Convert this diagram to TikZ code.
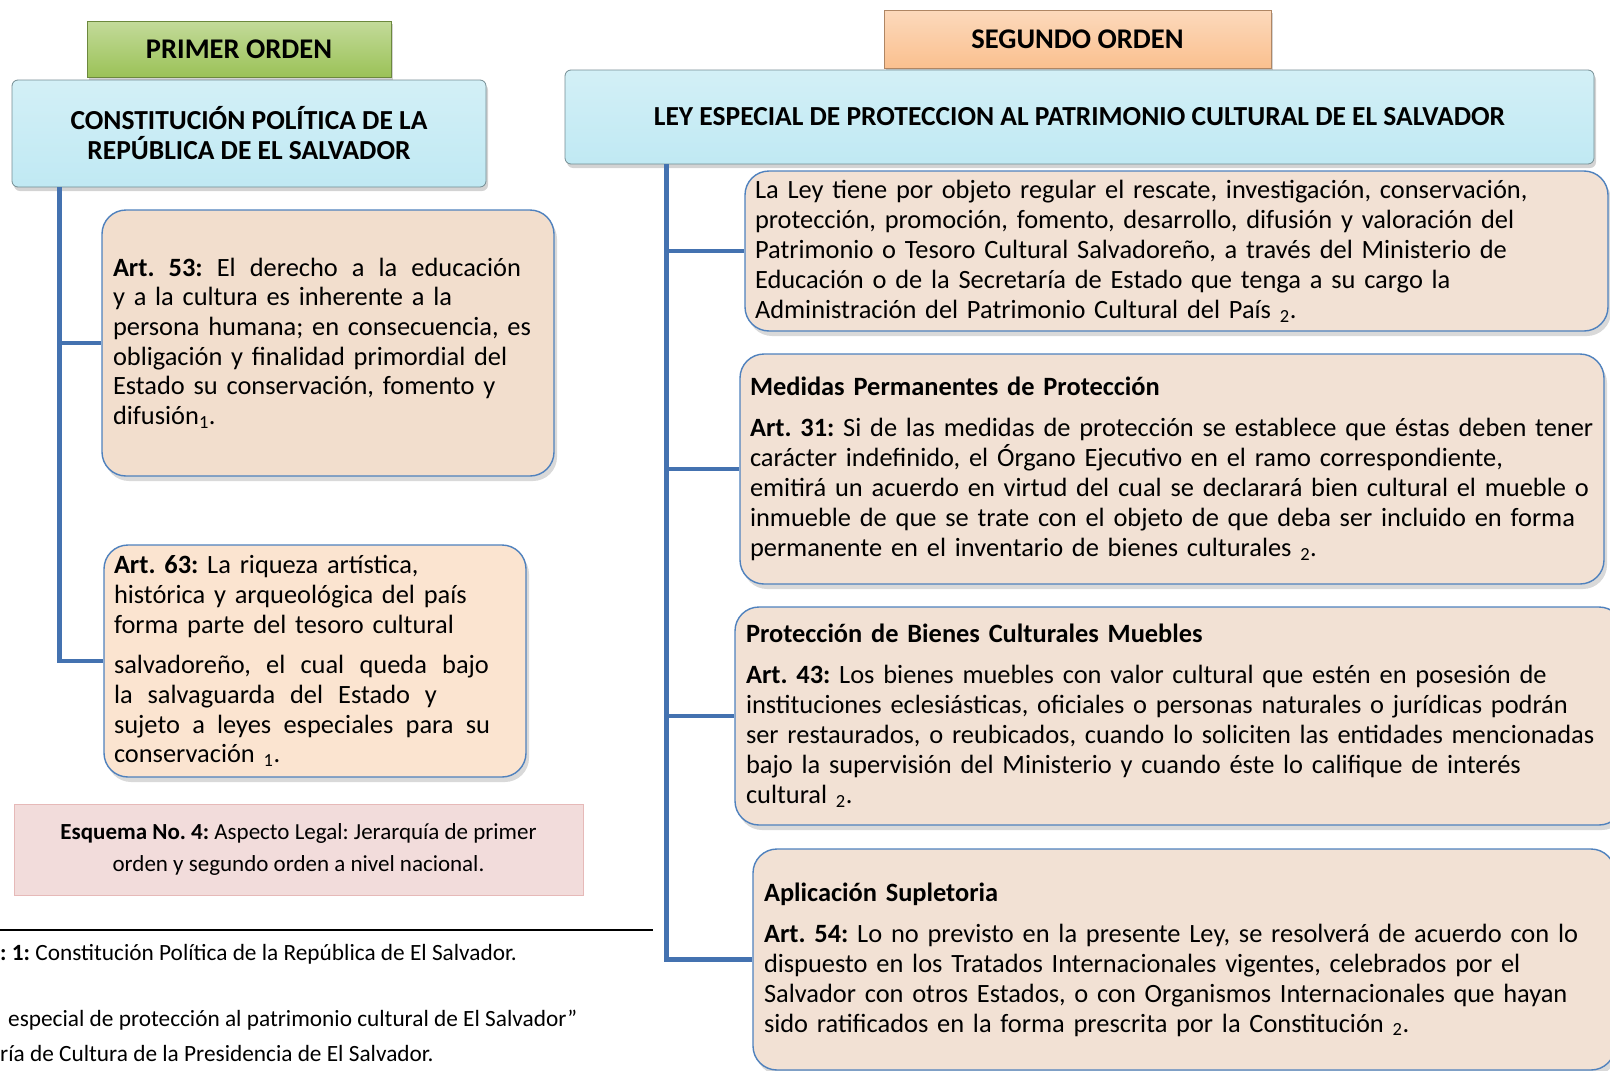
\documentclass[tikz,border=0pt]{standalone}
\usepackage{fontspec}
\setmainfont{Carlito}
\frenchspacing
\usepackage{tikz}
\usetikzlibrary{positioning,shadows,calc}

\definecolor{bordeazul}{RGB}{79,129,189}
\definecolor{troncoazul}{RGB}{68,114,176}
\definecolor{pielley}{RGB}{242,225,212}
\definecolor{pielart}{RGB}{242,222,205}
\definecolor{pielclara}{RGB}{251,228,208}
\definecolor{cielo}{RGB}{192,233,243}
\definecolor{verdeorden}{RGB}{155,194,87}
\definecolor{naranjaorden}{RGB}{250,192,143}
\definecolor{rosaesquema}{RGB}{242,220,219}
\definecolor{bordesquema}{RGB}{230,185,184}

% linea justificada a mano
\newcommand{\estirar}[2]{\makebox[#1][s]{\spaceskip=.23em plus 1fil\xspaceskip=.23em plus 1fil\relax #2}}

\tikzset{
  ordenbox/.style={rectangle, draw=#1!70!black, line width=0.8pt, top color=#1!60!white, bottom color=#1,
    inner sep=0pt, font=\fontsize{28.5}{32}\selectfont\bfseries,
    drop shadow={shadow xshift=2pt, shadow yshift=-3pt, opacity=.35}},
  leybox/.style={rectangle, rounded corners=6pt, draw=cielo!60!black, line width=0.8pt,
    top color=cielo!70!white, bottom color=cielo, inner sep=0pt, align=center,
    font=\fontsize{27.5}{30}\selectfont\bfseries,
    drop shadow={shadow xshift=2pt, shadow yshift=-4pt, opacity=.35}},
  artbox/.style={rectangle, rounded corners=24pt, draw=bordeazul, line width=1.4pt, fill=#1,
    inner ysep=3pt, align=left, font=\fontsize{26.4}{29.7}\selectfont,
    drop shadow={shadow xshift=3pt, shadow yshift=-5pt, opacity=.3}},
  leytext/.style={font=\fontsize{26.4}{30}\selectfont},
  tronco/.style={draw=troncoazul, line width=4.5pt}
}

\begin{document}
\begin{tikzpicture}[x=1pt,y=-1pt]
\clip (0,0) rectangle (1610,1071);

% primer orden
\node[ordenbox=verdeorden, minimum width=304pt, minimum height=56pt] (primer) at (239,49) {PRIMER ORDEN};
\node[leybox, minimum width=474pt, minimum height=107pt] (constitucion) at (249,133.5)
    {CONSTITUCIÓN POLÍTICA DE LA\\REPÚBLICA DE EL SALVADOR};

\node[artbox=pielart, minimum width=452pt, minimum height=266pt, inner xsep=11pt, text width=430pt] (art53) at (328,343)
    {\estirar{408pt}{\textbf{Art. 53:} El derecho a la educación}\\
     y a la cultura es inherente a la\\
     persona humana; en consecuencia, es\\
     obligación y finalidad primordial del\\
     Estado su conservación, fomento y\\
     difusión\textsubscript{1}.};
\node[artbox=pielclara, minimum width=422pt, minimum height=232pt, inner xsep=10pt, text width=402pt] (art63) at (315,661)
    {\textbf{Art. 63:} La riqueza artística,\\
     histórica y arqueológica del país\\
     forma parte del tesoro cultural\\[11pt]
     \estirar{375pt}{salvadoreño, el cual queda bajo}\\
     \estirar{323pt}{la salvaguarda del Estado y}\\
     \estirar{376pt}{sujeto a leyes especiales para su}\\
     conservación \textsubscript{1}.};

\coordinate (ltronco) at ($(constitucion.south west)+(48,0)$);
\draw[tronco] (ltronco) |- (art53.west);
\draw[tronco] (ltronco) |- (art63.west);

% segundo orden
\node[ordenbox=naranjaorden, minimum width=387pt, minimum height=58pt] (segundo) at (1077.5,39) {SEGUNDO ORDEN};
\node[leybox, minimum width=1029pt, minimum height=94pt] (ley) at (1079.5,117)
    {LEY ESPECIAL DE PROTECCION AL PATRIMONIO CULTURAL DE EL SALVADOR};

\node[artbox=pielley, leytext, minimum width=863pt, minimum height=160pt, inner xsep=10pt, text width=843pt] (objeto) at (1176.5,251)
    {La Ley tiene por objeto regular el rescate, investigación, conservación,\\
     protección, promoción, fomento, desarrollo, difusión y valoración del\\
     Patrimonio o Tesoro Cultural Salvadoreño, a través del Ministerio de\\
     Educación o de la Secretaría de Estado que tenga a su cargo la\\
     Administración del Patrimonio Cultural del País \textsubscript{2}.};
\node[artbox=pielley, leytext, minimum width=864pt, minimum height=230pt, inner xsep=10pt, text width=844pt] (medidas) at (1172,469)
    {\textbf{Medidas Permanentes de Protección}\\[11pt]
     \textbf{Art. 31:} Si de las medidas de protección se establece que éstas deben tener\\
     carácter indefinido, el Órgano Ejecutivo en el ramo correspondiente,\\
     emitirá un acuerdo en virtud del cual se declarará bien cultural el mueble o\\
     inmueble de que se trate con el objeto de que deba ser incluido en forma\\
     permanente en el inventario de bienes culturales \textsubscript{2}.};
\node[artbox=pielley, leytext, minimum width=888pt, minimum height=218pt, inner xsep=11pt, text width=866pt] (muebles) at (1179,716)
    {\textbf{Protección de Bienes Culturales Muebles}\\[11pt]
     \textbf{Art. 43:} Los bienes muebles con valor cultural que estén en posesión de\\
     instituciones eclesiásticas, oficiales o personas naturales o jurídicas podrán\\
     ser restaurados, o reubicados, cuando lo soliciten las entidades mencionadas\\
     bajo la supervisión del Ministerio y cuando éste lo califique de interés\\
     cultural \textsubscript{2}.};
\node[artbox=pielley, leytext, minimum width=862pt, minimum height=221pt, inner xsep=11pt, text width=840pt] (supletoria) at (1184,959.5)
    {\textbf{Aplicación Supletoria}\\[11pt]
     \textbf{Art. 54:} Lo no previsto en la presente Ley, se resolverá de acuerdo con lo\\
     dispuesto en los Tratados Internacionales vigentes, celebrados por el\\
     Salvador con otros Estados, o con Organismos Internacionales que hayan\\
     sido ratificados en la forma prescrita por la Constitución \textsubscript{2}.};

\coordinate (rtronco) at ($(ley.south west)+(102,0)$);
\draw[tronco] (rtronco) |- (objeto.west);
\draw[tronco] (rtronco) |- (medidas.west);
\draw[tronco] (rtronco) |- (muebles.west);
\draw[tronco] (rtronco) |- (supletoria.west);

% esquema y notas
\node[draw=bordesquema, line width=1pt, fill=rosaesquema, minimum width=569pt, minimum height=91pt, align=center,
      font=\fontsize{23}{32}\selectfont] (esquema) at (298.5,849.5)
    {\textbf{Esquema No. 4:} Aspecto Legal: Jerarquía de primer\\orden y segundo orden a nivel nacional.};

\draw[line width=1.6pt] (0,930) -- (653,930);
\node[anchor=west, inner sep=0pt, font=\fontsize{23.3}{26}\selectfont] (nota1) at (0,954)
    {\textbf{: 1:} Constitución Política de la República de El Salvador.};
\node[anchor=west, inner sep=0pt, font=\fontsize{23.3}{26}\selectfont] (nota2) at (8,1020)
    {especial de protección al patrimonio cultural de El Salvador”};
\node[anchor=west, inner sep=0pt, font=\fontsize{23.3}{26}\selectfont] (nota3) at (0,1053)
    {ría de Cultura de la Presidencia de El Salvador.};
\end{tikzpicture}
\end{document}
